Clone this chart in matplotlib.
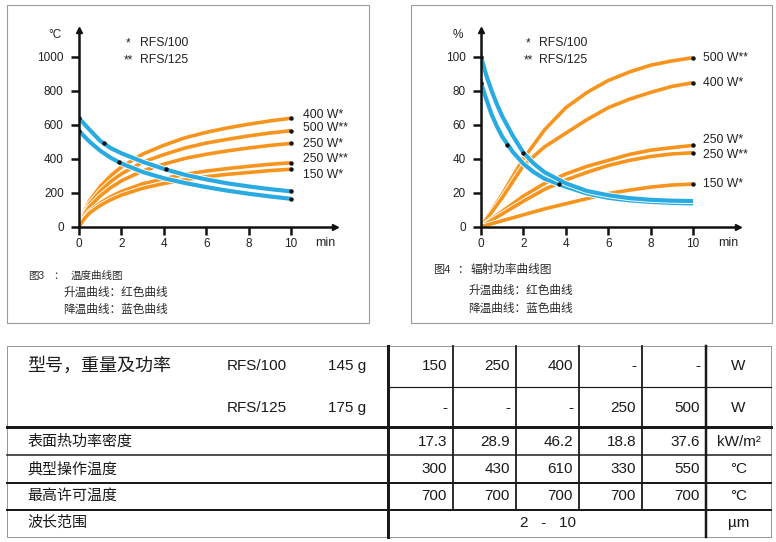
import matplotlib
matplotlib.use("Agg")
import matplotlib.pyplot as plt
import matplotlib.patheffects as pe
from matplotlib.transforms import Affine2D
from matplotlib.lines import Line2D

plt.rcParams['font.family'] = ['Liberation Sans', 'Noto Sans CJK SC', 'DejaVu Sans']

W, H = 776, 542
ORANGE = '#F7941D'
BLUE = '#29ABE2'

# ---- Fig 3: temperature curves ----
t_heat = [0, 0.25, 0.5, 1, 1.5, 2, 3, 4, 5, 6, 7, 8, 9, 10]
temp_400w = [0, 89, 153, 236, 300, 351, 427, 479, 523, 555, 581, 603, 622, 638]
temp_500w = [0, 79, 136, 209, 266, 311, 379, 424, 463, 492, 514, 534, 551, 565]
temp_250w_a = [0, 69, 118, 181, 230, 270, 328, 368, 402, 426, 446, 463, 478, 490]
temp_250w_b = [0, 53, 90, 139, 177, 207, 252, 282, 308, 327, 342, 355, 367, 376]
temp_150w = [0, 47, 81, 125, 159, 186, 226, 254, 277, 294, 308, 319, 330, 338]
temp_heat = [temp_400w, temp_500w, temp_250w_a, temp_250w_b, temp_150w]

t_cool = [0, 0.5, 1, 1.5, 2, 3, 4, 5, 6, 7, 8, 9, 10]
temp_cool_hi = [638, 570, 505, 462, 432, 382, 340, 305, 278, 255, 237, 221, 208]
temp_cool_lo = [563, 500, 447, 405, 372, 322, 285, 257, 233, 212, 194, 178, 164]
temp_dots_t = [0, 1.18, 4.1, 10, 0, 1.89, 10]
temp_dots_v = [638, 490, 338, 208, 563, 379, 164]

temp_labels = ["400 W*", "500 W**", "250 W*", "250 W**", "150 W*"]
temp_label_y = [657, 581, 486, 398, 304]

# ---- Fig 4: radiant power curves ----
t_pow = [0, 1, 2, 3, 4, 5, 6, 7, 8, 9, 10]
pow_500w = [0, 19, 40, 57, 70, 79, 86, 91, 95, 97.5, 99.4]
pow_400w = [0, 17, 36, 47, 55, 63, 70, 75, 79, 82.5, 84.7]
pow_250w_a = [0, 9, 18, 25.5, 31, 35.5, 39, 42.5, 45, 46.5, 47.8]
pow_250w_b = [0, 7.5, 15, 22, 27.5, 32, 36, 39, 41.3, 42.8, 43.5]
pow_150w = [0, 3.5, 7, 10.5, 13.5, 16.5, 19.5, 21.5, 23.3, 24.5, 25.1]
pow_heat = [pow_500w, pow_400w, pow_250w_a, pow_250w_b, pow_150w]

t_pcool = [0, 0.25, 0.5, 0.75, 1, 1.5, 2, 2.5, 3, 4, 5, 6, 7, 8, 9, 10]
pow_cool_hi = [100, 89, 80, 72, 65, 53.5, 43.5, 37, 32, 25.5, 21, 18.5, 16.8, 15.8, 15.3, 15.1]
pow_cool_lo = [84.7, 75, 66, 59, 53, 44, 37, 32, 28.2, 23.5, 19.5, 17, 15.5, 14.6, 14, 13.7]
pow_dots_t = [0, 0, 1.21, 2.0, 3.68]
pow_dots_v = [100, 84.7, 47.8, 43.5, 25.1]

pow_labels = ["500 W**", "400 W*", "250 W*", "250 W**", "150 W*"]
pow_label_y = [99.2, 84.5, 51, 42.2, 25.1]

# ---- table ----
models = ["RFS/100", "RFS/125"]
weights = ["145 g", "175 g"]
power_rfs100 = ["150", "250", "400", "-", "-"]
power_rfs125 = ["-", "-", "-", "250", "500"]
density = ["17.3", "28.9", "46.2", "18.8", "37.6"]
op_temp = ["300", "430", "610", "330", "550"]
max_temp = ["700", "700", "700", "700", "700"]
row_labels = ["表面热功率密度", "典型操作温度", "最高许可温度", "波长范围"]
units = ["W", "W", "kW/m²", "°C", "°C", "µm"]
wavelength = "2   -   10"

fig = plt.figure(figsize=(W / 100, H / 100), dpi=100)
pix = Affine2D().scale(1 / W, -1 / H).translate(0, 1) + fig.transFigure


def hline(y, x0, x1, lw, color='#1a1a1a'):
    fig.add_artist(Line2D([x0, x1], [y, y], lw=lw * 0.72, color=color, transform=pix))


def vline(x, y0, y1, lw, color='#1a1a1a'):
    fig.add_artist(Line2D([x, x], [y0, y1], lw=lw * 0.72, color=color, transform=pix))


def stroke(lw):
    return [pe.Stroke(linewidth=lw + 1.3, foreground='white'), pe.Normal()]


def setup_axes(left, right, bottom, top, xmax, ymax, yticks):
    ax = fig.add_axes([left / W, 1 - bottom / H, (right - left) / W, (bottom - top) / H])
    ax.set_xlim(0, xmax)
    ax.set_ylim(0, ymax)
    ax.patch.set_visible(False)
    for s in ['top', 'right']:
        ax.spines[s].set_visible(False)
    for s in ['left', 'bottom']:
        ax.spines[s].set_linewidth(1.8)
        ax.spines[s].set_color('#111111')
    ax.set_xticks([0, 2, 4, 6, 8, 10])
    ax.set_yticks(yticks)
    ax.tick_params(axis='both', direction='out', length=6, width=1.8, color='#111111',
                   labelsize=8.5, labelcolor='#222222')
    ax.tick_params(axis='x', pad=2)
    ax.tick_params(axis='y', pad=5)
    ax.plot(1, 0, '>', color='#111111', ms=5, transform=ax.transAxes, clip_on=False)
    ax.plot(0, 1, '^', color='#111111', ms=5, transform=ax.transAxes, clip_on=False)
    return ax


def caption(x, y, s, fs):
    fig.text(x, y, s, transform=pix, fontsize=fs, va='center', color='#2a2a2a')


# panel borders
for x0, x1 in [(7, 369), (411, 772)]:
    fig.add_artist(plt.Rectangle((x0, 323), x1 - x0, -318, fill=False, lw=0.8,
                                 ec='#9a9a9a', transform=pix))

# Fig 3
ax1 = setup_axes(79, 335, 226.7, 30, 256 / 21.2, 196.7 / 0.17, [0, 200, 400, 600, 800, 1000])
for vals in temp_heat:
    ax1.plot(t_heat, vals, color=ORANGE, lw=2.6, solid_capstyle='butt', path_effects=stroke(2.6))
for vals in [temp_cool_hi, temp_cool_lo]:
    ax1.plot(t_cool, vals, color=BLUE, lw=3.0, solid_capstyle='butt', path_effects=stroke(3.0))
ax1.plot([10] * 5, [v[-1] for v in temp_heat], 'o', color='#111111', ms=2.2, zorder=5)
ax1.plot(temp_dots_t, temp_dots_v, 'o', color='#111111', ms=2.2, zorder=5)
for lab, y in zip(temp_labels, temp_label_y):
    ax1.text(10.57, y, lab, fontsize=8.8, va='center', color='#222222')

fig.text(55, 35, "°C", transform=pix, fontsize=8.5, ha='center', va='center', color='#222222')
fig.text(325, 243, "min", transform=pix, fontsize=8.8, ha='center', va='center', color='#222222')
fig.text(128, 43, "*", transform=pix, fontsize=8.5, ha='center', va='center', color='#222222')
fig.text(140, 43, "RFS/100", transform=pix, fontsize=8.8, va='center', color='#222222')
fig.text(128, 60, "**", transform=pix, fontsize=8.5, ha='center', va='center', color='#222222')
fig.text(140, 60, "RFS/125", transform=pix, fontsize=8.8, va='center', color='#222222')

caption(28, 276, "图3", 7.5)
caption(53, 276, "：", 7.5)
caption(71, 276, "温度曲线图", 7.6)
caption(63, 293, "升温曲线：红色曲线", 8.4)
caption(63, 310, "降温曲线：蓝色曲线", 8.4)

# Fig 4
ax2 = setup_axes(481, 738, 226.7, 30, 257 / 21.2, 196.7 / 1.7, [0, 20, 40, 60, 80, 100])
for vals in pow_heat:
    ax2.plot(t_pow, vals, color=ORANGE, lw=2.6, solid_capstyle='butt', path_effects=stroke(2.6))
for vals in [pow_cool_lo, pow_cool_hi]:
    ax2.plot(t_pcool, vals, color=BLUE, lw=3.0, solid_capstyle='butt', path_effects=stroke(3.0))
ax2.plot([10] * 5, [v[-1] for v in pow_heat], 'o', color='#111111', ms=2.2, zorder=5)
ax2.plot(pow_dots_t, pow_dots_v, 'o', color='#111111', ms=2.2, zorder=5)
for lab, y in zip(pow_labels, pow_label_y):
    ax2.text(10.47, y, lab, fontsize=8.8, va='center', color='#222222')

fig.text(458, 35, "%", transform=pix, fontsize=8.5, ha='center', va='center', color='#222222')
fig.text(728, 243, "min", transform=pix, fontsize=8.8, ha='center', va='center', color='#222222')
fig.text(528, 43, "*", transform=pix, fontsize=8.5, ha='center', va='center', color='#222222')
fig.text(539, 43, "RFS/100", transform=pix, fontsize=8.8, va='center', color='#222222')
fig.text(528, 60, "**", transform=pix, fontsize=8.5, ha='center', va='center', color='#222222')
fig.text(539, 60, "RFS/125", transform=pix, fontsize=8.8, va='center', color='#222222')

caption(433, 270, "图4", 8)
caption(457, 270, "：", 8)
caption(471, 270, "辐射功率曲线图", 8.4)
caption(468, 291, "升温曲线：红色曲线", 8.4)
caption(468, 309, "降温曲线：蓝色曲线", 8.4)

# ---- table grid ----
col_edges = [388, 453, 516, 579, 642, 706, 771]
hline(346, 7, 771, 1, '#9a9a9a')
hline(537, 7, 771, 1, '#9a9a9a')
vline(7, 346, 537, 1, '#9a9a9a')
vline(771, 346, 537, 1, '#9a9a9a')
hline(387, 388, 771, 1.2)
hline(427, 7, 771, 3)
hline(455, 7, 771, 1.5)
hline(483, 7, 771, 2)
hline(510, 7, 771, 2)
vline(388, 346, 537, 3)
for x in col_edges[1:5]:
    vline(x, 346, 510, 1.8)
vline(706, 346, 537, 2.5)

tfs = 11
fig.text(27, 366, "型号，重量及功率", transform=pix, fontsize=13, va='center', color='#1a1a1a')
row_y = [366, 408]
for m, wgt, y in zip(models, weights, row_y):
    fig.text(227, y, m, transform=pix, fontsize=tfs, va='center', color='#1a1a1a')
    fig.text(328, y, wgt, transform=pix, fontsize=tfs, va='center', color='#1a1a1a')

value_rows = [(power_rfs100, 366), (power_rfs125, 408), (density, 441.5),
              (op_temp, 469), (max_temp, 496)]
for vals, y in value_rows:
    for v, xr in zip(vals, col_edges[1:6]):
        fig.text(xr - 6, y, v, transform=pix, fontsize=tfs, ha='right', va='center', color='#1a1a1a')

for lab, y in zip(row_labels, [441.5, 469, 496, 523]):
    fig.text(27, y, lab, transform=pix, fontsize=10.8, va='center', color='#1a1a1a')

fig.text(548, 523, wavelength, transform=pix, fontsize=tfs, ha='center', va='center', color='#1a1a1a')
for u, y in zip(units, [366, 408, 441.5, 469, 496, 523]):
    fig.text(738.5, y, u, transform=pix, fontsize=tfs, ha='center', va='center', color='#1a1a1a')

fig.savefig("out.png", dpi=100)
